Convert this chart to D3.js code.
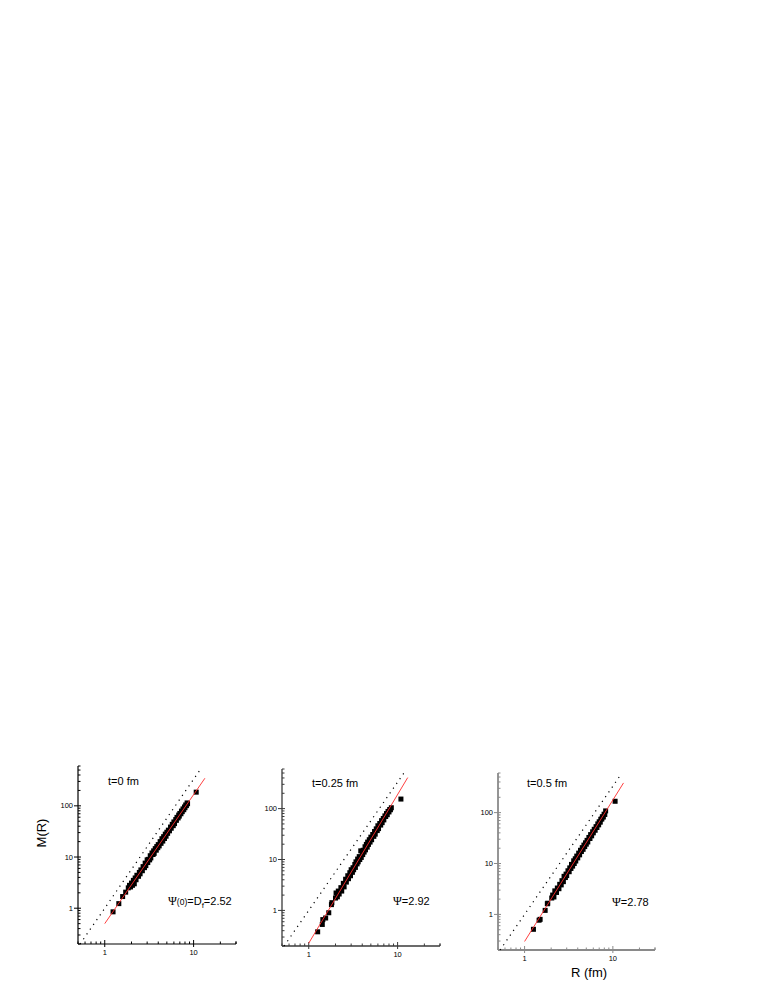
<!DOCTYPE html>
<html><head><meta charset="utf-8">
<script src="https://cdn.jsdelivr.net/npm/d3@7"></script>
<style>body{margin:0;background:#fff}svg{display:block}</style>
</head><body>
<svg id="c" width="779" height="1008"></svg>
<script>
// ---- data ----
const panelTitles = ["t=0 fm", "t=0.25 fm", "t=0.5 fm"];
const xDomain = [0.5, 30];
const yDomain = [0.2, 600];
const xTickLabels = [1, 10];
const yTickLabels = [1, 10, 100];

const r1 = [1.24,1.44,1.59,1.72,1.84,1.9,1.95,2.0,2.05,2.1,2.15,2.2,2.25,2.3,2.4,2.45,2.5,2.55,2.65,2.7,2.8,2.85,2.9,3.0,3.05,3.1,3.2,3.25,3.3,3.4,3.5,3.55,3.6,3.7,3.8,3.85,3.95,4.0,4.1,4.2,4.3,4.4,4.5,4.6,4.7,4.8,4.9,5.0,5.1,5.2,5.35,5.5,5.6,5.75,5.9,6.0,6.1,6.3,6.4,6.5,6.7,6.8,6.9,7.0,7.2,7.3,7.45,7.6,7.75,7.9,8.0,8.15,8.3,8.45,8.55,10.7];
const m1 = [0.85,1.23,1.69,2.06,2.5,2.8,2.6,3.1,2.8,3.5,3.0,3.9,3.6,4.4,4.2,5.0,4.7,5.6,5.4,6.5,6.2,7.6,6.8,8.8,7.8,9.0,8.8,10.6,9.6,12.0,11.2,13.2,11.8,14.6,13.6,16.0,15.2,17.5,16.5,20.0,18.5,22.8,20.5,25.0,23.0,28.0,25.5,30.5,29.0,33.5,32.5,38.5,36.5,43.5,41.0,48.5,45.0,54.0,52.0,59.5,58.0,66.0,63.0,71.0,70.0,79.0,77.0,87.0,84.0,95.0,92.0,104,101,114,110,185];

const r2 = [1.26,1.42,1.44,1.55,1.68,1.80,1.82,2.0,2.03,2.1,2.15,2.2,2.3,2.35,2.45,2.5,2.6,2.65,2.75,2.8,2.9,2.95,3.0,3.1,3.15,3.2,3.3,3.35,3.4,3.5,3.55,3.6,3.7,3.75,3.85,3.9,4.0,4.05,4.1,4.2,4.3,4.35,4.45,4.55,4.6,4.7,4.8,4.9,5.0,5.1,5.25,5.4,5.5,5.6,5.75,5.9,6.0,6.1,6.3,6.45,6.6,6.7,6.9,7.0,7.2,7.35,7.5,7.65,7.8,8.0,8.15,8.3,8.5,10.9];
const m2 = [0.38,0.53,0.66,0.71,0.90,1.30,1.42,1.75,2.2,1.85,2.4,2.1,2.8,2.4,3.4,2.9,4.1,3.6,4.8,4.2,5.5,4.8,6.3,5.6,6.9,6.3,8.0,7.0,9.0,8.2,10.2,9.0,11.4,10.0,14.8,11.0,14.4,12.5,15.2,14.0,17.8,15.5,19.8,17.5,22.0,19.8,24.5,22.0,27.5,24.5,31.0,28.5,35.5,31.5,40.0,37.0,46.0,40.5,51.0,47.5,58.0,53.0,64.0,60.0,72.0,70.0,80.0,76.0,88.0,86.0,96.0,95.0,104,154];

const r3 = [1.26,1.46,1.5,1.71,1.81,1.83,2.03,2.08,2.15,2.2,2.3,2.35,2.45,2.5,2.6,2.65,2.75,2.8,2.9,2.95,3.0,3.1,3.2,3.25,3.35,3.4,3.5,3.6,3.65,3.75,3.8,3.9,4.0,4.1,4.2,4.3,4.4,4.5,4.6,4.7,4.8,4.9,5.0,5.1,5.2,5.35,5.5,5.6,5.75,5.9,6.0,6.15,6.3,6.45,6.6,6.75,6.9,7.0,7.2,7.3,7.5,7.6,7.8,7.95,8.1,8.28,10.6];
const m3 = [0.51,0.77,0.80,1.2,1.62,1.66,2.1,2.4,2.2,2.9,2.7,3.3,3.2,3.9,3.8,4.6,4.4,5.6,5.3,6.2,5.8,7.2,6.9,8.2,8.0,9.6,8.9,11.3,10.0,12.4,11.2,14.0,12.9,16.0,14.8,18.2,17.2,20.5,19.0,23.0,21.5,25.5,24.0,28.5,26.5,32.5,31.0,37.0,35.0,42.0,40.0,47.0,45.0,53.0,51.0,60.0,57.5,66.0,65.0,74.0,75.0,83.0,82.0,93.0,92.0,108,167];

// fitted power-law lines (end points, R and M)
const fitR = [[1.0, 13.4], [1.0, 13.0], [1.0, 13.2]];
const fitM = [[0.5, 346], [0.227, 407], [0.294, 383]];
// dotted reference line (end points)
const refR = [0.528, 12.3];
const refM = [0.2, 558];

const annotations = ["Ψ(0)=Df=2.52", "Ψ=2.92", "Ψ=2.78"];

// ---- layout ----
const panels = [
  {x0: 78,  x1: 236, yb: 944, yt: 766, axis: "#000",    aw: 1.2, tx: 108, ty: 785, ax: 168, ay: 905},
  {x0: 282, x1: 440, yb: 946, yt: 769, axis: "#3a3a3a", aw: 1.3, tx: 312, ty: 787, ax: 393, ay: 905},
  {x0: 498, x1: 655, yb: 950, yt: 773, axis: "#8a8a8a", aw: 1.8, tx: 527, ty: 787, ax: 612, ay: 906}
];
const rs = [r1, r2, r3], ms = [m1, m2, m3];

const svg = d3.select("#c");
const FONT = "Liberation Sans, Arial, sans-serif";

panels.forEach((p, i) => {
  const x = d3.scaleLog().domain(xDomain).range([p.x0, p.x1]);
  const y = d3.scaleLog().domain(yDomain).range([p.yb, p.yt]);
  const g = svg.append("g");

  // x axis
  const xMinor = [];
  [0.1, 1, 10].forEach(d => { for (let k = 1; k < 10; k++) { const v = d * k; if (v >= xDomain[0] && v <= xDomain[1]) xMinor.push(v); } });
  xMinor.push(30);
  const xa = g.append("g").attr("transform", `translate(0,${p.yb})`);
  xa.append("line").attr("x1", p.x0).attr("x2", p.x1).attr("stroke", p.axis).attr("stroke-width", p.aw);
  xa.selectAll("line.mt").data(xMinor).join("line").attr("class", "mt")
    .attr("x1", d => x(d)).attr("x2", d => x(d))
    .attr("y1", d => xTickLabels.includes(d) ? 3 : 0).attr("y2", d => xTickLabels.includes(d) ? -4 : -2.5)
    .attr("stroke", p.axis).attr("stroke-width", 1);
  xa.selectAll("text").data(xTickLabels).join("text")
    .attr("x", d => x(d)).attr("y", 11).attr("text-anchor", "middle")
    .attr("font-family", FONT).attr("font-size", 7.5).attr("fill", "#000").text(d => d);

  // y axis
  const yMinor = [];
  [0.1, 1, 10, 100].forEach(d => { for (let k = 1; k < 10; k++) { const v = d * k; if (v >= yDomain[0] - 1e-9 && v <= yDomain[1] + 1e-9) yMinor.push(v); } });
  const ya = g.append("g").attr("transform", `translate(${p.x0},0)`);
  ya.append("line").attr("y1", p.yb).attr("y2", p.yt).attr("stroke", p.axis).attr("stroke-width", p.aw);
  ya.selectAll("line.mt").data(yMinor).join("line").attr("class", "mt")
    .attr("y1", d => y(d)).attr("y2", d => y(d))
    .attr("x1", d => yTickLabels.includes(d) ? -4 : 0).attr("x2", d => yTickLabels.includes(d) ? 3 : 2.5)
    .attr("stroke", p.axis).attr("stroke-width", 1);
  ya.selectAll("text").data(yTickLabels).join("text")
    .attr("x", -5).attr("y", d => y(d) + 2.6).attr("text-anchor", "end")
    .attr("font-family", FONT).attr("font-size", 7.5).attr("fill", "#000").text(d => d);

  // dotted reference line
  g.append("line")
    .attr("x1", x(refR[0])).attr("y1", y(refM[0])).attr("x2", x(refR[1])).attr("y2", y(refM[1]))
    .attr("stroke", "#000").attr("stroke-width", 1.2).attr("stroke-dasharray", "1.2,4.6");

  // data points
  const pts = rs[i].map((r, j) => [r, ms[i][j]]);
  g.selectAll("rect.pt").data(pts).join("rect").attr("class", "pt")
    .attr("x", d => x(d[0]) - 2.5).attr("y", d => y(d[1]) - 2.5)
    .attr("width", 5).attr("height", 5).attr("fill", "#000");

  // fit line
  g.append("line")
    .attr("x1", x(fitR[i][0])).attr("y1", y(fitM[i][0])).attr("x2", x(fitR[i][1])).attr("y2", y(fitM[i][1]))
    .attr("stroke", "#ff2a2a").attr("stroke-width", 0.9);

  // title
  g.append("text").attr("x", p.tx).attr("y", p.ty).attr("font-family", FONT).attr("font-size", 11)
    .attr("fill", "#000").text(panelTitles[i]);

  // annotation
  const t = g.append("text").attr("x", p.ax).attr("y", p.ay).attr("font-family", FONT).attr("font-size", 11).attr("fill", "#000");
  if (i === 0) {
    t.append("tspan").attr("font-family", "Liberation Serif, serif").attr("font-size", 12).text("Ψ");
    t.append("tspan").attr("font-size", 8.5).text("(0)");
    t.append("tspan").text("=D");
    t.append("tspan").attr("font-size", 8).attr("dy", 3).text("f");
    t.append("tspan").attr("dy", -3).text("=2.52");
  } else {
    const parts = annotations[i].split("=");
    t.append("tspan").attr("font-family", "Liberation Serif, serif").attr("font-size", 12).text(parts[0]);
    t.append("tspan").text("=" + parts[1]);
  }
});

// axis titles
svg.append("text").attr("transform", "translate(46,833) rotate(-90)").attr("text-anchor", "middle")
  .attr("font-family", FONT).attr("font-size", 13).attr("fill", "#000").text("M(R)");
svg.append("text").attr("x", 589).attr("y", 977).attr("text-anchor", "middle")
  .attr("font-family", FONT).attr("font-size", 13).attr("fill", "#000").text("R (fm)");
</script>
</body></html>
